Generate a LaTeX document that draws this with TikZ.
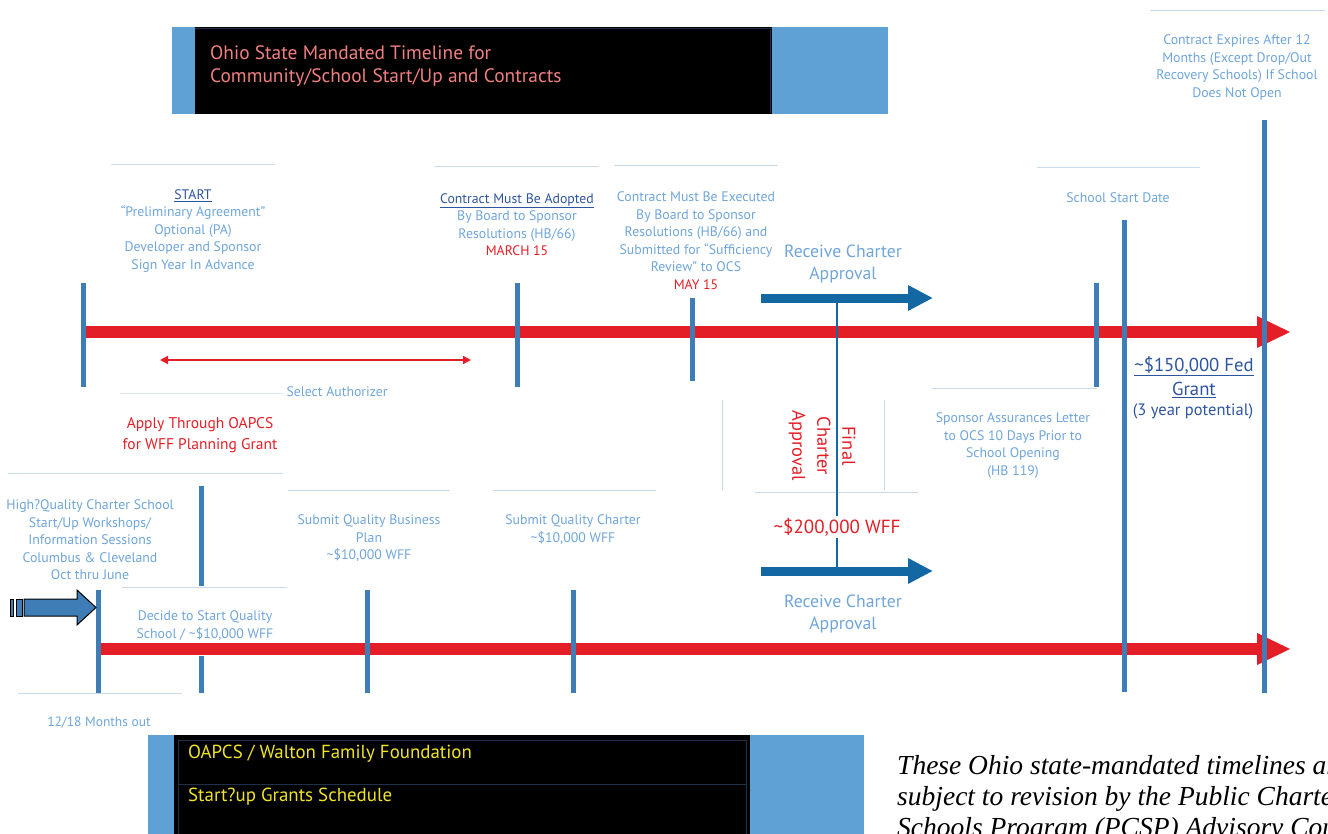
\documentclass[tikz,border=0pt]{standalone}
\usepackage{fontspec}
\setmainfont{PT Sans}
\newfontfamily\noteserif{Liberation Serif}
\usetikzlibrary{arrows.meta}
\definecolor{lblue}{RGB}{111,165,218}
\definecolor{dblue}{RGB}{46,84,160}
\definecolor{tred}{RGB}{228,30,38}
\definecolor{barblue}{RGB}{62,125,181}
\definecolor{arrblue}{RGB}{19,104,163}
\definecolor{hdrblue}{RGB}{95,160,213}
\definecolor{thinc}{RGB}{200,218,236}
\definecolor{pinkt}{RGB}{240,128,128}
\definecolor{yel}{RGB}{240,228,40}
\definecolor{boxline}{RGB}{30,49,72}
\begin{document}
\begin{tikzpicture}[x=1pt,y=-1pt,
  lbl/.style={text=lblue,font=\fontsize{13.8}{17.5}\selectfont,align=center,inner sep=1pt},
  rlbl/.style={text=tred,font=\fontsize{15.5}{21}\selectfont,align=center,inner sep=1pt},
  rcv/.style={text=lblue,font=\fontsize{17.7}{22}\selectfont,align=center,inner sep=1pt},
  bar/.style={draw=barblue,line width=5pt},
  thinline/.style={draw=thinc,line width=0.9pt},
  redline/.style={draw=tred,line width=12pt},
  redhead/.style={fill=tred},
  bluearrow/.style={draw=arrblue,line width=9pt,-{Triangle[length=25pt,width=24pt]}},
  vthin/.style={draw=arrblue,line width=1.3pt},
  notefont/.style={font=\noteserif\itshape\fontsize{27.5}{31}\selectfont,anchor=base west,inner sep=0pt}
]
\useasboundingbox (0,0) rectangle (1328,833);
\clip (0,0) rectangle (1328,833);

% ---------- header box ----------
\fill[hdrblue] (172,27) rectangle (888,114);
\fill[black] (195,27) rectangle (772,114);
\draw[boxline,line width=0.6pt] (195,28) -- (772,28);
\draw[boxline,line width=0.6pt] (770,30) -- (770,113);
\node[anchor=west,text=pinkt,font=\fontsize{19.4}{23}\selectfont,align=left,inner sep=0pt] (title) at (210,66.5)
  {Ohio State Mandated Timeline for\\Community/School Start/Up and Contracts};

% ---------- top right ----------
\draw[thinline] (1150,10) -- (1325,10);
\node[lbl] (expire) at (1237,67.5) {Contract Expires After 12\\Months (Except Drop/Out\\Recovery Schools) If School\\Does Not Open};

% ---------- top labels ----------
\draw[thinline] (111,164) -- (275,164);
\node[lbl] (start) at (193,231) {\textcolor{dblue}{\underline{START}}\\“Preliminary Agreement”\\Optional (PA)\\Developer and Sponsor\\Sign Year In Advance};
\draw[thinline] (435,166) -- (599,166);
\node[lbl] (adopt) at (517,224.5) {\textcolor{dblue}{\underline{Contract Must Be Adopted}}\\By Board to Sponsor\\Resolutions (HB/66)\\\textcolor{tred}{MARCH 15}};
\draw[thinline] (614,165) -- (778,165);
\node[lbl] (exec) at (696,240.5) {Contract Must Be Executed\\By Board to Sponsor\\Resolutions (HB/66) and\\Submitted for “Sufficiency\\Review” to OCS\\\textcolor{tred}{MAY 15}};
\draw[thinline] (1037,167) -- (1200,167);
\node[lbl] (ssd) at (1118,198) {School Start Date};

% ---------- top timeline ----------
\coordinate (t1s) at (85,332);
\coordinate (t1e) at (1259,332);
\draw[redline] (t1s) -- (t1e);
\fill[redhead] (1257,316) -- (1290,332) -- (1257,348) -- cycle;

% ---------- receive charter (top) ----------
\node[rcv] (rcv1) at (843,264) {Receive Charter\\Approval};
\coordinate (a1s) at (761,298);
\coordinate (a1e) at (933,298);
\draw[bluearrow] (a1s) -- (a1e);

% ---------- select authorizer ----------
\coordinate (sa1) at (160,360);
\coordinate (sa2) at (471,360);
\draw[tred,line width=1.3pt,{Triangle[length=8pt,width=8pt]}-{Triangle[length=8pt,width=8pt]}] (sa1) -- (sa2);
\draw[thinline,draw=thinc!60] (120,393) -- (283,393);
\node[lbl] (selauth) at (337,392) {Select Authorizer};

\node[rlbl] (apply) at (200,435.5) {Apply Through OAPCS\\for WFF Planning Grant};

% ---------- final charter approval ----------
\draw[thinline] (722,400) -- (722,490);
\draw[thinline] (884,400) -- (884,490);
\draw[thinline] (755,492) -- (918,492);
\node[text=tred,font=\fontsize{18.5}{25}\selectfont,align=center,rotate=-90,inner sep=0pt] (final) at (822,446) {Final\\Charter\\Approval};

% ---------- sponsor assurances ----------
\draw[thinline] (932,388) -- (1097,388);
\node[lbl] (spons) at (1013,445.5) {Sponsor Assurances Letter\\to OCS 10 Days Prior to\\School Opening\\(HB 119)};

% ---------- lower labels ----------
\draw[thinline] (8,473) -- (283,473);
\node[lbl] (work) at (90,540) {High?Quality Charter School\\Start/Up Workshops/\\Information Sessions\\Columbus \& Cleveland\\Oct thru June};
\draw[thinline] (288,490) -- (450,490);
\node[lbl] (bplan) at (369,538.5) {Submit Quality Business\\Plan\\\textasciitilde\$10,000 WFF};
\draw[thinline] (493,490) -- (656,490);
\node[lbl] (scharter) at (573,529.5) {Submit Quality Charter\\\textasciitilde\$10,000 WFF};
\draw[thinline] (122,587) -- (287,587);
\node[lbl] (decide) at (205,625.5) {Decide to Start Quality\\School / \textasciitilde\$10,000 WFF};
\draw[thinline] (18,693) -- (182,693);
\node[lbl,font=\fontsize{13.5}{14}\selectfont] (months) at (99,723) {12/18 Months out};

% ---------- lower timeline ----------
\coordinate (t2s) at (100,649);
\coordinate (t2e) at (1259,649);
\draw[redline] (t2s) -- (t2e);
\fill[redhead] (1257,633) -- (1290,649) -- (1257,665) -- cycle;

% ---------- receive charter (bottom) ----------
\coordinate (a2s) at (761,571);
\coordinate (a2e) at (933,571);
\draw[bluearrow] (a2s) -- (a2e);
\node[rcv] (rcv2) at (843,614) {Receive Charter\\Approval};

% ---------- thin vertical link ----------
\draw[vthin] (837,302) -- (837,567);
\node[text=tred,font=\fontsize{19}{20}\selectfont,fill=white,inner sep=2pt] (wff) at (837,527) {\textasciitilde\$200,000 WFF};

% ---------- vertical bars ----------
\draw[bar] (83,283) -- (83,387);
\draw[bar] (517,283) -- (517,387);
\draw[bar] (692,298) -- (692,381);
\draw[bar] (1096,283) -- (1096,387);
\draw[bar] (1124,220) -- (1124,692);
\draw[bar] (1264,120) -- (1264,693);
\draw[bar] (98,590) -- (98,693);
\draw[bar] (201,486) -- (201,586);
\draw[bar] (201,656) -- (201,693);
\draw[bar] (367,590) -- (367,693);
\draw[bar] (573,590) -- (573,693);

% ---------- federal grant ----------
\node[text=dblue,font=\fontsize{18.7}{24}\selectfont,align=center,inner sep=0pt] (fed) at (1194,377) {\underline{\textasciitilde\$150,000 Fed}\\\underline{Grant}};
\node[text=dblue,font=\fontsize{16.5}{18}\selectfont,inner sep=0pt] (fed3) at (1193,411) {(3 year potential)};

% ---------- left block arrow ----------
\fill[barblue,draw=black,line width=0.8pt] (10,599) rectangle (13.5,616);
\fill[barblue,draw=black,line width=0.8pt] (16,599) rectangle (22,616);
\filldraw[fill=barblue,draw=black,line width=1pt] (24,599) -- (77,599) -- (77,590) -- (96,607.5) -- (77,625) -- (77,616) -- (24,616) -- cycle;

% ---------- bottom box ----------
\fill[hdrblue] (148,735) rectangle (864,840);
\fill[black] (174,735) rectangle (750,840);
\draw[boxline,line width=0.7pt] (178,740) rectangle (746,845);
\draw[boxline,line width=0.7pt] (178,784) -- (746,784);
\node[anchor=west,text=yel,font=\fontsize{18.9}{20}\selectfont,inner sep=0pt] (wal1) at (188,754) {OAPCS / Walton Family Foundation};
\node[anchor=west,text=yel,font=\fontsize{18.9}{20}\selectfont,inner sep=0pt] (wal2) at (188,797) {Start?up Grants Schedule};

% ---------- note ----------
\node[notefont] (n1) at (897,774) {These Ohio state-mandated timelines are};
\node[notefont] (n2) at (897,805) {subject to revision by the Public Charter};
\node[notefont] (n3) at (897,836) {Schools Program (PCSP) Advisory Council};
\end{tikzpicture}
\end{document}
